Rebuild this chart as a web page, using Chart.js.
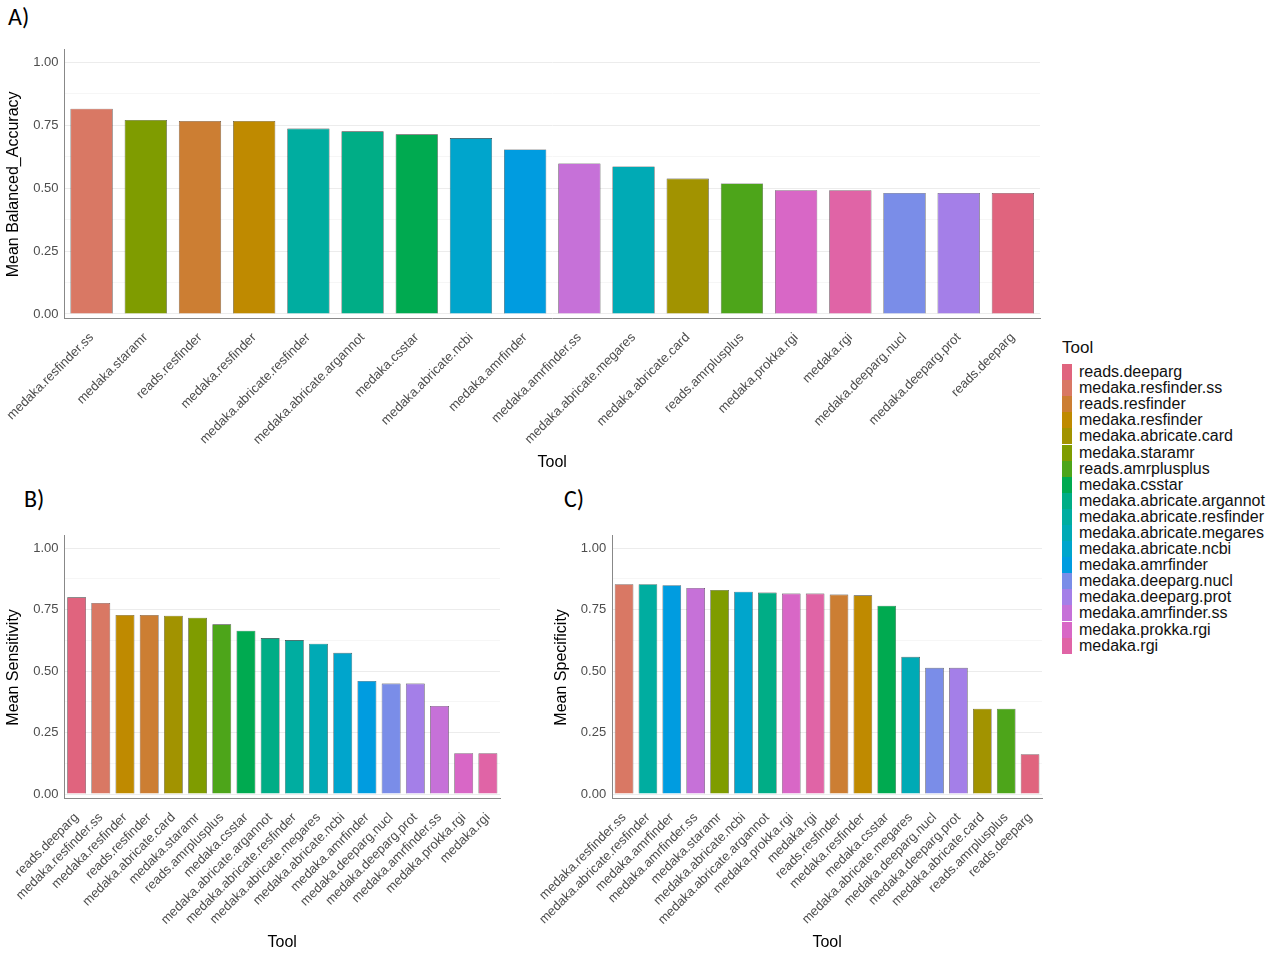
<!DOCTYPE html>
<html><head><meta charset="utf-8">
<script src="https://cdn.jsdelivr.net/npm/chart.js@4"></script>
<style>
body{margin:0;background:#fff;font-family:"Liberation Sans",Arial,sans-serif;}
.box{position:absolute;}
.lab{position:absolute;font-family:Calibri,"Liberation Sans",sans-serif;font-size:24px;color:#000;}
#legend{position:absolute;left:1062px;top:338px;font-size:16px;color:#111;}
#legend .t{font-size:17px;margin-bottom:6px;}
#legend .r{display:flex;align-items:center;height:16.1px;}
#legend .s{width:10px;height:16px;margin-right:7px;}
</style></head><body>
<div class="lab" style="left:8px;top:2px">A)</div>
<div class="lab" style="left:24px;top:484px">B)</div>
<div class="lab" style="left:564px;top:484px">C)</div>
<div class="box" style="left:0;top:36px;width:1050px;height:440px"><canvas id="cA"></canvas></div>
<div class="box" style="left:0;top:522px;width:505px;height:434px"><canvas id="cB"></canvas></div>
<div class="box" style="left:537px;top:522px;width:510px;height:434px"><canvas id="cC"></canvas></div>
<div id="legend"><div class="t">Tool</div></div>
<script>
const toolColors = {
 'reads.deeparg':'#E0647E','medaka.resfinder.ss':'#D97864','reads.resfinder':'#CC7E33',
 'medaka.resfinder':'#BF8A00','medaka.abricate.card':'#A29300','medaka.staramr':'#7F9C00',
 'reads.amrplusplus':'#4DA51A','medaka.csstar':'#00AA50','medaka.abricate.argannot':'#00AD86',
 'medaka.abricate.resfinder':'#00ADA0','medaka.abricate.megares':'#00AAB5','medaka.abricate.ncbi':'#00A5CC',
 'medaka.amrfinder':'#009CE0','medaka.deeparg.nucl':'#7A8DE8','medaka.deeparg.prot':'#A47FE8',
 'medaka.amrfinder.ss':'#C671D8','medaka.prokka.rgi':'#D867C6','medaka.rgi':'#E064A6'
};
const accTools = ['medaka.resfinder.ss','medaka.staramr','reads.resfinder','medaka.resfinder','medaka.abricate.resfinder','medaka.abricate.argannot','medaka.csstar','medaka.abricate.ncbi','medaka.amrfinder','medaka.amrfinder.ss','medaka.abricate.megares','medaka.abricate.card','reads.amrplusplus','medaka.prokka.rgi','medaka.rgi','medaka.deeparg.nucl','medaka.deeparg.prot','reads.deeparg'];
const accValues = [0.816,0.771,0.767,0.767,0.737,0.726,0.714,0.699,0.654,0.598,0.586,0.538,0.519,0.492,0.492,0.481,0.481,0.481];
const sensTools = ['reads.deeparg','medaka.resfinder.ss','medaka.resfinder','reads.resfinder','medaka.abricate.card','medaka.staramr','reads.amrplusplus','medaka.csstar','medaka.abricate.argannot','medaka.abricate.resfinder','medaka.abricate.megares','medaka.abricate.ncbi','medaka.amrfinder','medaka.deeparg.nucl','medaka.deeparg.prot','medaka.amrfinder.ss','medaka.prokka.rgi','medaka.rgi'];
const sensValues = [0.800,0.777,0.728,0.728,0.725,0.717,0.690,0.664,0.634,0.626,0.611,0.574,0.460,0.449,0.449,0.358,0.166,0.166];
const specTools = ['medaka.resfinder.ss','medaka.abricate.resfinder','medaka.amrfinder','medaka.amrfinder.ss','medaka.staramr','medaka.abricate.ncbi','medaka.abricate.argannot','medaka.prokka.rgi','medaka.rgi','reads.resfinder','medaka.resfinder','medaka.csstar','medaka.abricate.megares','medaka.deeparg.nucl','medaka.deeparg.prot','medaka.abricate.card','reads.amrplusplus','reads.deeparg'];
const specValues = [0.853,0.853,0.849,0.838,0.830,0.823,0.819,0.815,0.815,0.811,0.808,0.766,0.558,0.513,0.513,0.347,0.347,0.162];
const yTicks = [0,0.125,0.25,0.375,0.5,0.625,0.75,0.875,1];

function makeChart(id, labels, values, yTitle, pad){
  new Chart(document.getElementById(id), {
    type:'bar',
    data:{labels:labels, datasets:[{data:values, backgroundColor:labels.map(l=>toolColors[l]),
      borderColor:'#333', borderWidth:0.6, barPercentage:0.78, categoryPercentage:1}]},
    options:{responsive:true, maintainAspectRatio:false, animation:false,
      layout:{padding:pad},
      plugins:{legend:{display:false}, tooltip:{enabled:false}},
      scales:{
        x:{grid:{display:false}, border:{color:'#888'},
          ticks:{minRotation:45,maxRotation:45,autoSkip:false,color:'#4d4d4d',font:{size:13}},
          title:{display:true,text:'Tool',color:'#000',font:{size:16},padding:{top:2}}},
        y:{min:-0.02,max:1.05, border:{color:'#888'},
          afterBuildTicks:ax=>{ax.ticks=yTicks.map(v=>({value:v}));},
          grid:{color:c=>c.tick && (c.tick.value*4)%1===0 ? '#ececec':'#f6f6f6', drawTicks:false},
          ticks:{color:'#4d4d4d',font:{size:13},padding:6,
            callback:v=>((v*4)%1===0? v.toFixed(2):'')},
          title:{display:true,text:yTitle,color:'#000',font:{size:16}}}
      }}
  });
}
makeChart('cA', accTools, accValues, 'Mean Balanced_Accuracy', {right:10});
makeChart('cB', sensTools, sensValues, 'Mean Sensitivity', {right:5});
makeChart('cC', specTools, specValues, 'Mean Specificity', {right:5});

const lg = document.getElementById('legend');
Object.keys(toolColors).forEach(k=>{
  const r=document.createElement('div'); r.className='r';
  r.innerHTML='<span class="s" style="background:'+toolColors[k]+'"></span>'+k;
  lg.appendChild(r);
});
</script>
</body></html>
